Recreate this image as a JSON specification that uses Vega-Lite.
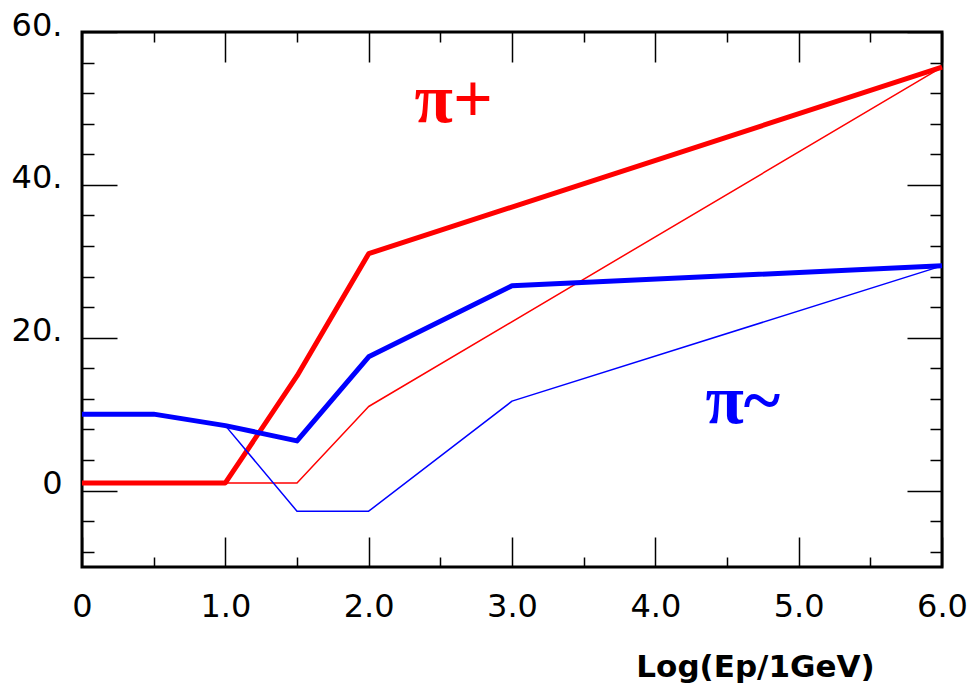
{
  "$schema": "https://vega.github.io/schema/vega-lite/v6.json",
  "width": 860,
  "height": 535,
  "autosize": "none",
  "padding": {"left": 82, "top": 32, "right": 33, "bottom": 120},
  "background": "white",
  "config": {
    "view": {"stroke": "black", "strokeWidth": 3},
    "axis": {
      "domain": false,
      "grid": false,
      "tickColor": "black",
      "tickWidth": 1.5,
      "labelFont": "DejaVu Sans",
      "labelFontSize": 32,
      "labelColor": "black",
      "labelOverlap": false,
      "labelBound": false,
      "labelFlush": false
    }
  },
  "datasets": {
    "curves": [
      {"particle": "π+", "curve": "A", "x": 0, "y": 1},
      {"particle": "π+", "curve": "A", "x": 1, "y": 1},
      {"particle": "π+", "curve": "A", "x": 1.5, "y": 15},
      {"particle": "π+", "curve": "A", "x": 2, "y": 31},
      {"particle": "π+", "curve": "A", "x": 6, "y": 55.4},
      {"particle": "π+", "curve": "B", "x": 0, "y": 1},
      {"particle": "π+", "curve": "B", "x": 1.5, "y": 1},
      {"particle": "π+", "curve": "B", "x": 2, "y": 11},
      {"particle": "π+", "curve": "B", "x": 6, "y": 55.4},
      {"particle": "π~", "curve": "A", "x": 0, "y": 10},
      {"particle": "π~", "curve": "A", "x": 0.5, "y": 10},
      {"particle": "π~", "curve": "A", "x": 1, "y": 8.5},
      {"particle": "π~", "curve": "A", "x": 1.5, "y": 6.5},
      {"particle": "π~", "curve": "A", "x": 2, "y": 17.5},
      {"particle": "π~", "curve": "A", "x": 3, "y": 26.8},
      {"particle": "π~", "curve": "A", "x": 6, "y": 29.4},
      {"particle": "π~", "curve": "B", "x": 1, "y": 8.5},
      {"particle": "π~", "curve": "B", "x": 1.5, "y": -2.7},
      {"particle": "π~", "curve": "B", "x": 2, "y": -2.7},
      {"particle": "π~", "curve": "B", "x": 3, "y": 11.7},
      {"particle": "π~", "curve": "B", "x": 6, "y": 29.4}
    ],
    "labels": [
      {"particle": "π+", "x": 2.32, "y": 48.2},
      {"particle": "π~", "x": 4.35, "y": 8.9}
    ]
  },
  "layer": [
    {
      "data": {"name": "curves"},
      "mark": {"type": "line", "strokeJoin": "round"},
      "encoding": {
        "x": {
          "field": "x", "type": "quantitative",
          "scale": {"domain": [0, 6], "nice": false, "zero": false},
          "axis": {
            "orient": "bottom",
            "values": [0, 0.5, 1, 1.5, 2, 2.5, 3, 3.5, 4, 4.5, 5, 5.5, 6],
            "tickSize": {"expr": "datum.value % 1 === 0 ? -30 : -10"},
            "labelExpr": "datum.value % 1 === 0 ? (datum.value === 0 ? '0' : format(datum.value, '.1f')) : ''",
            "labelPadding": 54,
            "title": "Log(Ep/1GeV)",
            "titleFont": "DejaVu Sans",
            "titleFontWeight": "bold",
            "titleFontSize": 31,
            "titleColor": "black",
            "titleX": 673,
            "titleY": 109,
            "titleAlign": "center",
            "titleBaseline": "alphabetic",
            "titleAnchor": null
          }
        },
        "y": {
          "field": "y", "type": "quantitative",
          "scale": {"domain": [-10, 60], "nice": false, "zero": false},
          "axis": {
            "orient": "left",
            "values": [-8, -4, 0, 4, 8, 12, 16, 20, 24, 28, 32, 36, 40, 44, 48, 52, 56, 60],
            "tickSize": {"expr": "datum.value % 20 === 0 ? -35 : -12"},
            "labelExpr": "datum.value % 20 === 0 ? (datum.value === 0 ? '0' : datum.value + '.') : ''",
            "labelPadding": 55,
            "labelOffset": -7,
            "title": null
          }
        },
        "color": {
          "field": "particle", "type": "nominal",
          "scale": {"domain": ["π+", "π~"], "range": ["#ff0000", "#0000ff"]},
          "legend": null
        },
        "strokeWidth": {
          "field": "curve", "type": "nominal",
          "scale": {"domain": ["A", "B"], "range": [5, 1.5]},
          "legend": null
        },
        "detail": {"field": "curve"}
      }
    },
    {
      "data": {"name": "labels"},
      "mark": {"type": "text", "font": "Liberation Serif", "fontWeight": "bold", "fontSize": 70, "align": "left", "baseline": "alphabetic"},
      "encoding": {
        "x": {
          "field": "x", "type": "quantitative",
          "scale": {"domain": [0, 6], "nice": false, "zero": false},
          "axis": {
            "orient": "top",
            "values": [0, 0.5, 1, 1.5, 2, 2.5, 3, 3.5, 4, 4.5, 5, 5.5, 6],
            "tickSize": {"expr": "datum.value % 1 === 0 ? -30 : -10"},
            "labels": false,
            "title": null
          }
        },
        "y": {
          "field": "y", "type": "quantitative",
          "scale": {"domain": [-10, 60], "nice": false, "zero": false},
          "axis": {
            "orient": "right",
            "values": [-8, -4, 0, 4, 8, 12, 16, 20, 24, 28, 32, 36, 40, 44, 48, 52, 56, 60],
            "tickSize": {"expr": "datum.value % 20 === 0 ? -35 : -12"},
            "labels": false,
            "title": null
          }
        },
        "text": {"field": "particle"},
        "color": {"field": "particle", "type": "nominal", "legend": null}
      }
    }
  ],
  "resolve": {"axis": {"x": "independent", "y": "independent"}}
}
